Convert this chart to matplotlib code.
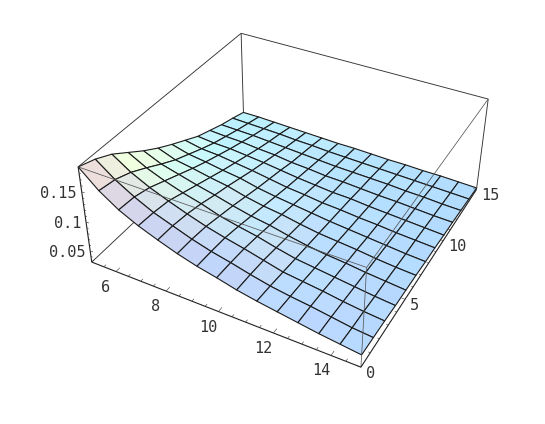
"""Perspective surface plot with lit facets, in the old Plot3D look"""
import numpy as np
import matplotlib
matplotlib.use('Agg')
import matplotlib.pyplot as plt
from mpl_toolkits.mplot3d import proj3d
from mpl_toolkits.mplot3d.art3d import Line3DCollection

x_vals = [5 + i * 10 / 14 for i in range(15)]
y_vals = [j * 15 / 12 for j in range(13)]

# one row per x, one column per y
z_vals = [
    [.190, .181, .168, .150, .132, .116, .102, .089, .076, .067, .058, .051, .043],
    [.1625, .158, .148, .134, .119, .105, .094, .083, .073, .065, .057, .050, .043],
    [.142, .140, .133, .122, .111, .100, .090, .081, .072, .064, .056, .049, .042],
    [.127, .125, .121, .112, .103, .094, .085, .077, .069, .061, .054, .048, .041],
    [.115, .114, .110, .104, .096, .089, .081, .073, .066, .059, .052, .046, .040],
    [.104, .103, .100, .094, .088, .081, .074, .068, .062, .055, .050, .045, .039],
    [.095, .094, .092, .087, .081, .075, .069, .063, .058, .053, .048, .043, .038],
    [.088, .087, .085, .081, .076, .071, .065, .060, .055, .050, .046, .042, .038],
    [.080, .079, .077, .073, .069, .065, .061, .056, .052, .049, .045, .041, .037],
    [.074, .072, .069, .066, .063, .060, .057, .054, .051, .047, .044, .040, .036],
    [.069, .067, .065, .062, .059, .057, .054, .051, .048, .045, .043, .039, .036],
    [.064, .063, .061, .058, .056, .054, .051, .049, .046, .044, .041, .038, .035],
    [.059, .058, .056, .054, .052, .050, .048, .046, .044, .042, .040, .037, .035],
    [.055, .053, .052, .050, .049, .047, .045, .044, .042, .040, .038, .036, .034],
    [.051, .050, .049, .047, .046, .045, .043, .042, .040, .039, .037, .035, .033],
]

x_range = (5, 15)
y_range = (0, 15)
z_range = (.03, .19)

x_major = [6, 8, 10, 12, 14]
y_major = [0, 5, 10, 15]
z_major = [.05, .1, .15]
x_minor = [5 + k * .5 for k in range(21)]
y_minor = list(range(16))
z_minor = [.03 + k * .01 for k in range(17)]

# where the box corners land in the image (pixels), used to fit the camera
corner_pixels = {
    (0, 0, 0): (92.7, 262.7), (1, 0, 0): (360.7, 367.3),
    (1, 1, 0): (476.5, 190.0), (0, 1, 0): (243.0, 118.0),
    (0, 0, 1): (77.3, 166.7), (1, 0, 1): (366.7, 266.7),
    (1, 1, 1): (488.3, 99.0), (0, 1, 1): (241.7, 34.0),
}

W, H = 545, 424
fig = plt.figure(figsize=(W / 100, H / 100), dpi=100, facecolor='white')
side = W / H
ax = fig.add_axes([0, (1 - side) / 2, 1, side], projection='3d', computed_zorder=False)
ax.set_axis_off()
ax.apply_aspect()


def fit_camera():
    rows = []
    for (u, v, w), (px, py) in corner_pixels.items():
        sx, sy = ax.transData.inverted().transform((px, H - py))
        p = [u, v, w, 1]
        rows.append(p + [0, 0, 0, 0] + [-sx * c for c in p])
        rows.append([0, 0, 0, 0] + p + [-sy * c for c in p])
    P = np.linalg.svd(np.array(rows))[2][-1].reshape(3, 4)
    if P[2] @ np.array([.5, .5, .5, 1]) < 0:
        P = -P
    P = P / (P[2] @ np.array([.5, .5, .5, 1]))
    # data coordinates to unit cube
    S = np.array([
        [1 / (x_range[1] - x_range[0]), 0, 0, -x_range[0] / (x_range[1] - x_range[0])],
        [0, 1 / (y_range[1] - y_range[0]), 0, -y_range[0] / (y_range[1] - y_range[0])],
        [0, 0, 1 / (z_range[1] - z_range[0]), -z_range[0] / (z_range[1] - z_range[0])],
        [0, 0, 0, 1],
    ])
    Q = P @ S
    depth = Q[2] - .8 * np.array([0, 0, 0, 1])
    return np.vstack([Q[0], Q[1], depth, Q[2]])


M = fit_camera()
ax.get_proj = lambda: M


def facet_colors(X, Y, Z):
    # colour follows the facet normal, tuned by eye against the picture
    U = (X - x_range[0]) / (x_range[1] - x_range[0])
    V = (Y - y_range[0]) / (y_range[1] - y_range[0])
    T = .4 * (Z - z_range[0]) / (z_range[1] - z_range[0])
    P = np.dstack([U, V, T])
    n = np.cross(P[1:, 1:] - P[:-1, :-1], P[:-1, 1:] - P[1:, :-1])
    n = n / np.linalg.norm(n, axis=2, keepdims=True)
    n = n * np.sign(n[:, :, 2:3])
    out = np.ones(n.shape[:2] + (4,))
    out[:, :, 0] = .67 + .32 * n[:, :, 0] + .30 * n[:, :, 1]
    out[:, :, 1] = .84 - .06 * n[:, :, 0] + .50 * n[:, :, 1]
    out[:, :, 2] = 1.05 - .26 * n[:, :, 0] - .11 * n[:, :, 1]
    return np.clip(out, 0, 1)


X, Y = np.meshgrid(x_vals, y_vals, indexing='ij')
Z = np.array(z_vals)

edge = '#333333'


def box_lines(segments, z=1, lw=.65, color=edge):
    ax.add_collection3d(Line3DCollection(segments, colors=color, linewidths=lw, zorder=z))


x0, x1 = x_range
y0, y1 = y_range
z0, z1 = z_range

# behind the surface
box_lines([[(x0, y0, z0), (x0, y1, z0)],
           [(x0, y1, z0), (x1, y1, z0)],
           [(x0, y1, z0), (x0, y1, z1)],
           [(x0, y1, z1), (x0, y0, z1)],
           [(x0, y1, z1), (x1, y1, z1)]])

ax.plot_surface(X, Y, Z, rstride=1, cstride=1, facecolors=facet_colors(X, Y, Z), shade=False,
                edgecolor='#1a1a1a', linewidth=.8, antialiased=True, zorder=2)

# in front of it
box_lines([[(x0, y0, z0), (x1, y0, z0)],
           [(x1, y0, z0), (x1, y1, z0)],
           [(x0, y0, z0), (x0, y0, z1)]], 3, .8, '#222222')
box_lines([[(x1, y1, z0), (x1, y1, z1)]], 3, .65)
box_lines([[(x1, y0, z0), (x1, y0, z1)],
           [(x0, y0, z1), (x1, y0, z1)],
           [(x1, y0, z1), (x1, y1, z1)]], 3, .55, '#555555')

tick_segs = []
for v in x_minor:
    L = .32 if v in x_major else .18
    tick_segs.append([(v, y0, z0), (v, y0 + L, z0)])
for v in y_minor:
    L = .12 if v in y_major else .07
    tick_segs.append([(x1, v, z0), (x1 - L, v, z0)])
for v in z_minor:
    L = .12 if any(abs(v - m) < 1e-6 for m in z_major) else .07
    tick_segs.append([(x0, y0, v), (x0 + L, y0, v)])
box_lines(tick_segs, 3, .4)


def tick_label(text, pos, dx, dy, ha):
    sx, sy, _ = proj3d.proj_transform(pos[0], pos[1], pos[2], M)
    ax.annotate(text, (sx, sy), xytext=(dx * .72, -dy * .72), textcoords='offset points',
                ha=ha, va='center', family='DejaVu Sans Mono', fontsize=11,
                color='#333333', zorder=5, annotation_clip=False)


for v in x_major:
    tick_label(str(v), (v, y0, z0), -10, 15.5, 'center')
for v in y_major:
    tick_label(str(v), (x1, v, z0), 5, 6, 'left')
for v in z_major:
    tick_label(f'{v:g}', (x0, y0, v), -5, 2, 'right')

fig.savefig('out.png', dpi=100, facecolor='white')
